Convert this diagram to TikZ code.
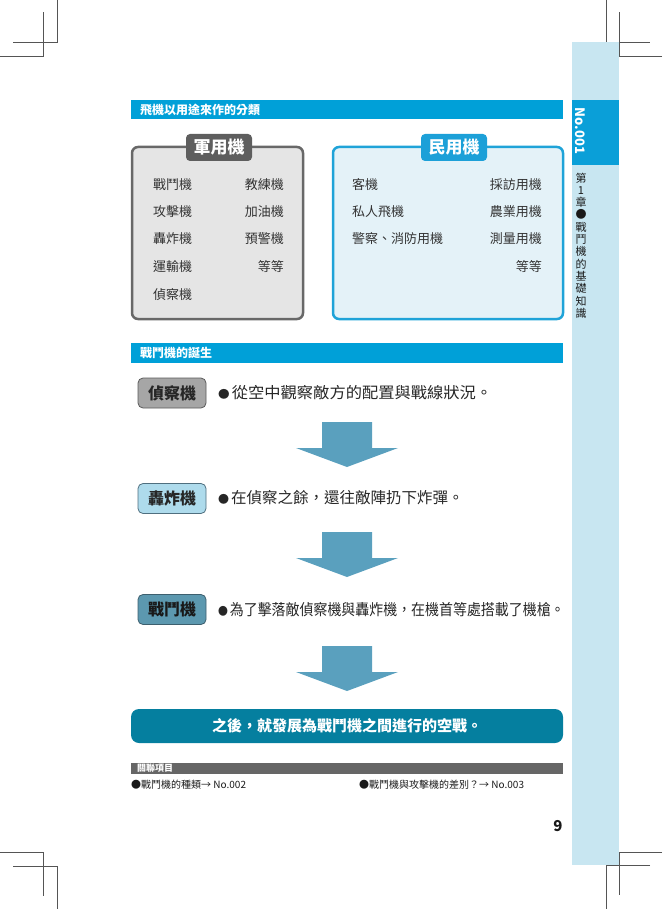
\documentclass[tikz,border=0pt]{standalone}
\usepackage{fontspec}
\setmainfont{Noto Sans CJK TC}
\definecolor{barblue}{HTML}{00A0D8}
\definecolor{sidelight}{HTML}{C8E6F1}
\definecolor{tabblue}{HTML}{0A9FD8}
\definecolor{milborder}{HTML}{686868}
\definecolor{milfill}{HTML}{E5E5E5}
\definecolor{millabel}{HTML}{5E5E5E}
\definecolor{civborder}{HTML}{1FA3D8}
\definecolor{civfill}{HTML}{E4F2F8}
\definecolor{civlabel}{HTML}{1CA0D8}
\definecolor{stagea}{HTML}{A6A6A6}
\definecolor{stageaedge}{HTML}{5A5A5A}
\definecolor{stageb}{HTML}{AEDBEC}
\definecolor{stagebedge}{HTML}{4F6F7F}
\definecolor{stagec}{HTML}{5C98AF}
\definecolor{stagecedge}{HTML}{3D5F6E}
\definecolor{arrowcol}{HTML}{5AA0BE}
\definecolor{bannercol}{HTML}{057F9F}
\definecolor{relbar}{HTML}{666666}
\definecolor{itemtext}{HTML}{333333}
\definecolor{cropcol}{HTML}{555555}
\newcommand\setfs[1]{\fontsize{#1}{#1}\selectfont}
\begin{document}
\begin{tikzpicture}[x=1pt,y=-1pt,
  crop/.style={draw=cropcol,line width=0.6pt},
  headbar/.style={fill=barblue},
  headtext/.style={anchor=west,inner sep=0pt,text=white,font=\setfs{12}\bfseries},
  bigbox/.style={rounded corners=6pt,line width=2.5pt,minimum height=172pt,inner sep=0pt},
  boxlabel/.style={rounded corners=4pt,minimum width=66pt,minimum height=27pt,inner sep=0pt,text=white,font=\setfs{17}\bfseries},
  itemL/.style={anchor=west,inner sep=0pt,text=itemtext,font=\setfs{13}},
  itemR/.style={anchor=east,inner sep=0pt,text=itemtext,font=\setfs{13}},
  stagebox/.style={rounded corners=5pt,line width=0.8pt,minimum width=68pt,minimum height=30pt,inner sep=0pt,font=\setfs{16}\bfseries,text=black!85},
  bullettext/.style={anchor=west,inner sep=0pt,text=black!85,font=\setfs{15.5}},
  relitem/.style={anchor=west,inner sep=0pt,text=black!90,font=\setfs{10}},
  blockdown/.pic={\fill[arrowcol] (-25,0) -- (25,0) -- (25,26) -- (51,26) -- (0,45) -- (-51,26) -- (-25,26) -- cycle;}
]
\useasboundingbox (0,0) rectangle (662,909);

% crop marks
\draw[crop] (57,0) -- (57,42) -- (13,42);
\draw[crop] (0,56) -- (43,56) -- (43,12);
\draw[crop] (606,0) -- (606,42) -- (650,42);
\draw[crop] (662,56) -- (619,56) -- (619,12);
\draw[crop] (0,852) -- (43,852) -- (43,896);
\draw[crop] (13,866) -- (57,866) -- (57,909);
\draw[crop] (662,852) -- (619,852) -- (619,895);
\draw[crop] (650,865) -- (606,865) -- (606,909);

% side tab
\fill[sidelight] (572,42) rectangle (619,865);
\fill[tabblue] (572,100) rectangle (619,165);
\node[rotate=-90,inner sep=0pt,text=white,font=\setfs{13}\bfseries] (tabno) at (580,131) {No.001};
\node[anchor=north,inner sep=0pt,align=center,text=black!90,font=\fontsize{11}{12.3}\selectfont] (chapter) at (581,172.5)
  {第\\1\\章\\●\\戰\\鬥\\機\\的\\基\\礎\\知\\識};

% section 1 header
\fill[headbar] (131,100) rectangle (563,119);
\node[headtext] (h1) at (140,109.5) {飛機以用途來作的分類};

% military box
\node[bigbox,draw=milborder,fill=milfill,minimum width=171pt] (mil) at (217.5,233) {};
\node[boxlabel,fill=millabel] (millab) at (219,147.5) {軍用機};
\node[itemL] (m1) at (153,185) {戰鬥機};
\node[itemL] (m2) at (153,212) {攻擊機};
\node[itemL] (m3) at (153,239) {轟炸機};
\node[itemL] (m4) at (153,267) {運輸機};
\node[itemL] (m5) at (153,295) {偵察機};
\node[itemR] (m6) at (284,185) {教練機};
\node[itemR] (m7) at (284,212) {加油機};
\node[itemR] (m8) at (284,239) {預警機};
\node[itemR] (m9) at (284,267) {等等};

% civil box
\node[bigbox,draw=civborder,fill=civfill,minimum width=230pt] (civ) at (448,233) {};
\node[boxlabel,fill=civlabel] (civlab) at (454,147.5) {民用機};
\node[itemL] (c1) at (352,185) {客機};
\node[itemL] (c2) at (352,212) {私人飛機};
\node[itemL] (c3) at (352,239) {警察、消防用機};
\node[itemR] (c4) at (542,185) {採訪用機};
\node[itemR] (c5) at (542,212) {農業用機};
\node[itemR] (c6) at (542,239) {測量用機};
\node[itemR] (c7) at (542,267) {等等};

% section 2 header
\fill[headbar] (131,343) rectangle (563,363);
\node[headtext] (h2) at (140,353) {戰鬥機的誕生};

% stages
\node[stagebox,draw=stageaedge,fill=stagea] (s1) at (172,393) {偵察機};
\node[bullettext,xscale=1.05] (t1) at (218,393) {{\setfs{11}●}\hspace{2pt}從空中觀察敵方的配置與戰線狀況。};
\pic at (347,422) {blockdown};
\node[stagebox,draw=stagebedge,fill=stageb] (s2) at (172,498.5) {轟炸機};
\node[bullettext] (t2) at (218,498) {{\setfs{11}●}\hspace{2pt}在偵察之餘，還往敵陣扔下炸彈。};
\pic at (347,532) {blockdown};
\node[stagebox,draw=stagecedge,fill=stagec,text=black!90] (s3) at (172,609.5) {戰鬥機};
\node[bullettext,xscale=0.9] (t3) at (218,610) {{\setfs{11}●}\hspace{2pt}為了擊落敵偵察機與轟炸機，在機首等處搭載了機槍。};
\pic at (347,646) {blockdown};

% banner
\node[fill=bannercol,rounded corners=8pt,minimum width=432pt,minimum height=34pt,inner sep=0pt,text=white,font=\setfs{15}\bfseries] (banner) at (347,726) {之後，就發展為戰鬥機之間進行的空戰。};

% related items
\fill[relbar] (131,763) rectangle (563,774);
\node[anchor=west,inner sep=0pt,text=white,font=\setfs{9}\bfseries] (relhead) at (137,768.5) {關聯項目};
\node[relitem] (r1) at (131,785) {●戰鬥機的種類→ No.002};
\node[relitem] (r2) at (359,785) {●戰鬥機與攻擊機的差別？→ No.003};

% page number
\node[inner sep=0pt,font=\setfs{15}\bfseries,text=black!90] (pageno) at (558,826.5) {9};
\end{tikzpicture}
\end{document}
